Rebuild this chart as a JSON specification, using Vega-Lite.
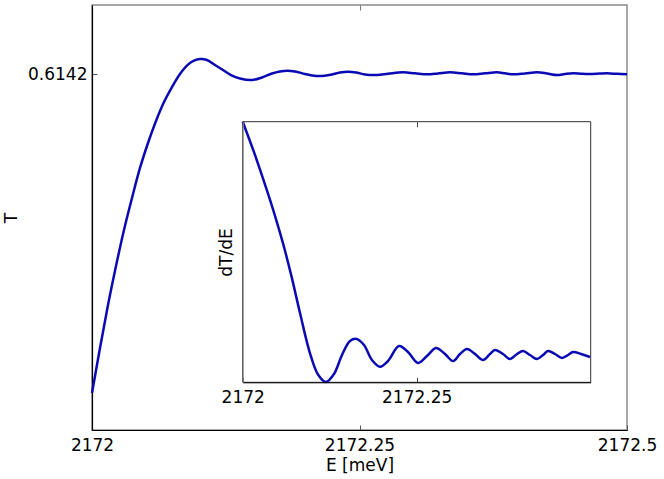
{
  "$schema": "https://vega.github.io/schema/vega-lite/v6.json",
  "width": 535,
  "height": 425,
  "autosize": {"type": "none"},
  "padding": {"left": 92, "top": 5, "right": 37, "bottom": 49},
  "background": "white",
  "config": {
    "view": {"stroke": "#8a8a8a", "strokeWidth": 1.5},
    "axis": {
      "labelFont": "DejaVu Sans",
      "titleFont": "DejaVu Sans",
      "labelFontSize": 17,
      "titleFontSize": 17,
      "titleFontWeight": "normal",
      "labelColor": "black",
      "titleColor": "black",
      "grid": false,
      "labelFlush": false,
      "labelOverlap": false
    }
  },
  "datasets": {
    "main": [
      {"E": 2172.0, "T": 0.610437}, {"E": 2172.00748, "T": 0.610969}, {"E": 2172.01495, "T": 0.611476},
      {"E": 2172.02243, "T": 0.611937}, {"E": 2172.0299, "T": 0.612362}, {"E": 2172.03738, "T": 0.61274},
      {"E": 2172.04486, "T": 0.613095}, {"E": 2172.05234, "T": 0.61339}, {"E": 2172.05981, "T": 0.61365},
      {"E": 2172.06729, "T": 0.613874}, {"E": 2172.07477, "T": 0.614051}, {"E": 2172.08224, "T": 0.614205},
      {"E": 2172.08972, "T": 0.614315}, {"E": 2172.09533, "T": 0.614362}, {"E": 2172.10093, "T": 0.614382},
      {"E": 2172.10748, "T": 0.61437}, {"E": 2172.11495, "T": 0.614311}, {"E": 2172.12243, "T": 0.614252},
      {"E": 2172.12991, "T": 0.614193}, {"E": 2172.13832, "T": 0.614152}, {"E": 2172.14953, "T": 0.614134},
      {"E": 2172.15888, "T": 0.614164}, {"E": 2172.16822, "T": 0.614211}, {"E": 2172.1757, "T": 0.614235},
      {"E": 2172.18224, "T": 0.614244}, {"E": 2172.18972, "T": 0.614235}, {"E": 2172.19907, "T": 0.614205},
      {"E": 2172.20748, "T": 0.614184}, {"E": 2172.21495, "T": 0.614181}, {"E": 2172.2243, "T": 0.614199},
      {"E": 2172.23178, "T": 0.614223}, {"E": 2172.23925, "T": 0.614232}, {"E": 2172.24673, "T": 0.614223},
      {"E": 2172.25514, "T": 0.614199}, {"E": 2172.26636, "T": 0.614193}, {"E": 2172.27664, "T": 0.614207},
      {"E": 2172.29065, "T": 0.614225}, {"E": 2172.30187, "T": 0.614213}, {"E": 2172.31308, "T": 0.614201},
      {"E": 2172.32336, "T": 0.614211}, {"E": 2172.33458, "T": 0.614225}, {"E": 2172.3458, "T": 0.614213},
      {"E": 2172.35607, "T": 0.614201}, {"E": 2172.36729, "T": 0.614213}, {"E": 2172.3785, "T": 0.614225},
      {"E": 2172.38598, "T": 0.614213}, {"E": 2172.39346, "T": 0.614201}, {"E": 2172.40467, "T": 0.614211},
      {"E": 2172.41589, "T": 0.614225}, {"E": 2172.42523, "T": 0.614211}, {"E": 2172.43458, "T": 0.614193},
      {"E": 2172.44206, "T": 0.614205}, {"E": 2172.44953, "T": 0.614213}, {"E": 2172.45794, "T": 0.614207},
      {"E": 2172.46542, "T": 0.614205}, {"E": 2172.47477, "T": 0.61421}, {"E": 2172.48131, "T": 0.614213},
      {"E": 2172.49065, "T": 0.614207}, {"E": 2172.5, "T": 0.614201}
    ],
    "inset": [
      {"E": 2172.0, "dTdE": 0.9}, {"E": 2172.01624, "dTdE": 0.783}, {"E": 2172.03448, "dTdE": 0.6391},
      {"E": 2172.04641, "dTdE": 0.5389}, {"E": 2172.05833, "dTdE": 0.4292}, {"E": 2172.07012, "dTdE": 0.3064},
      {"E": 2172.08233, "dTdE": 0.1659}, {"E": 2172.0967, "dTdE": 0.0113}, {"E": 2172.10862, "dTdE": -0.072},
      {"E": 2172.11968, "dTdE": -0.0989}, {"E": 2172.13118, "dTdE": -0.0681}, {"E": 2172.14268, "dTdE": 0.0048},
      {"E": 2172.15417, "dTdE": 0.0585}, {"E": 2172.1638, "dTdE": 0.0662}, {"E": 2172.17429, "dTdE": 0.0431},
      {"E": 2172.18578, "dTdE": -0.0144}, {"E": 2172.19728, "dTdE": -0.0401}, {"E": 2172.20877, "dTdE": -0.0183},
      {"E": 2172.22458, "dTdE": 0.0393}, {"E": 2172.23751, "dTdE": 0.0163}, {"E": 2172.25188, "dTdE": -0.0259},
      {"E": 2172.26481, "dTdE": 0.0009}, {"E": 2172.27774, "dTdE": 0.0316}, {"E": 2172.29067, "dTdE": 0.0086},
      {"E": 2172.30217, "dTdE": -0.0183}, {"E": 2172.31223, "dTdE": 0.0086}, {"E": 2172.32229, "dTdE": 0.0278},
      {"E": 2172.33378, "dTdE": 0.0086}, {"E": 2172.34528, "dTdE": -0.0144}, {"E": 2172.35534, "dTdE": 0.0086},
      {"E": 2172.36252, "dTdE": 0.0239}, {"E": 2172.37402, "dTdE": 0.0086}, {"E": 2172.38407, "dTdE": -0.0106},
      {"E": 2172.39413, "dTdE": 0.0086}, {"E": 2172.40275, "dTdE": 0.0201}, {"E": 2172.41281, "dTdE": 0.0048},
      {"E": 2172.42287, "dTdE": -0.0106}, {"E": 2172.43149, "dTdE": 0.0048}, {"E": 2172.43868, "dTdE": 0.0201},
      {"E": 2172.44873, "dTdE": 0.0086}, {"E": 2172.45879, "dTdE": -0.0067}, {"E": 2172.46741, "dTdE": 0.0048},
      {"E": 2172.4746, "dTdE": 0.0163}, {"E": 2172.48609, "dTdE": 0.0086}, {"E": 2172.49902, "dTdE": -0.0029}
    ],
    "frame": [
      {"E0": 2172.0, "E1": 2172.5, "v0": -0.1, "v1": 0.9}
    ]
  },
  "layer": [
    {
      "data": {"name": "main"},
      "mark": {"type": "line", "color": "#0a0ab4", "strokeWidth": 2.5, "interpolate": "catmull-rom"},
      "encoding": {
        "x": {
          "field": "E", "type": "quantitative",
          "scale": {"domain": [2172, 2172.5], "nice": false, "zero": false},
          "axis": {
            "orient": "bottom", "values": [2172, 2172.25, 2172.5], "format": ".2~f",
            "title": "E [meV]", "domainColor": "black", "domainWidth": 1.2,
            "tickColor": "#555", "tickSize": -5, "labelPadding": 12, "titlePadding": 4
          }
        },
        "y": {
          "field": "T", "type": "quantitative",
          "scale": {"domain": [0.61, 0.61502], "nice": false, "zero": false},
          "axis": {
            "orient": "left", "values": [0.6142], "format": ".4f",
            "title": "T", "domainColor": "black", "domainWidth": 1.2,
            "tickColor": "#555", "tickSize": -5, "labelPadding": 10, "titlePadding": 7
          }
        }
      }
    },
    {
      "data": {"name": "main"},
      "mark": {"type": "line", "opacity": 0},
      "encoding": {
        "x": {
          "field": "E", "type": "quantitative",
          "scale": {"domain": [2172, 2172.5], "nice": false, "zero": false},
          "axis": {
            "orient": "top", "values": [2172.25], "labels": false, "domain": false,
            "title": null, "tickColor": "#777", "tickSize": -5, "zindex": 1
          }
        },
        "y": {
          "field": "T", "type": "quantitative",
          "scale": {"domain": [0.61, 0.61502], "nice": false, "zero": false},
          "axis": null
        }
      }
    },
    {
      "resolve": {"scale": {"x": "independent"}},
      "layer": [
        {
          "data": {"name": "frame"},
          "mark": {"type": "rect", "fill": "white", "stroke": "#333", "strokeWidth": 1},
          "encoding": {
            "x": {
              "field": "E0", "type": "quantitative",
              "scale": {"domain": [2172, 2172.5], "range": [150.7, 498.7], "nice": false, "zero": false},
              "axis": {
                "orient": "bottom", "offset": -47.7, "values": [2172, 2172.25], "format": ".2~f",
                "title": null, "domainColor": "black", "tickColor": "#444", "tickSize": -5,
                "labelPadding": 12, "zindex": 1
              }
            },
            "x2": {"field": "E1"},
            "y": {
              "field": "v0", "type": "quantitative",
              "scale": {"domain": [-0.1, 0.9], "range": [377.3, 116.7], "nice": false, "zero": false},
              "axis": {
                "orient": "left", "offset": -150.7, "ticks": false, "labels": false,
                "title": "dT/dE", "titlePadding": 7, "domainColor": "#888", "zindex": 1
              }
            },
            "y2": {"field": "v1"}
          }
        },
        {
          "data": {"name": "inset"},
          "mark": {"type": "line", "color": "#0a0ab4", "strokeWidth": 2.5, "interpolate": "catmull-rom"},
          "encoding": {
            "x": {
              "field": "E", "type": "quantitative",
              "scale": {"domain": [2172, 2172.5], "range": [150.7, 498.7], "nice": false, "zero": false},
              "axis": {
                "orient": "top", "offset": -116.7, "values": [2172.25], "labels": false,
                "domain": false, "title": null, "tickColor": "#444", "tickSize": -5, "zindex": 1
              }
            },
            "y": {
              "field": "dTdE", "type": "quantitative",
              "scale": {"domain": [-0.1, 0.9], "range": [377.3, 116.7], "nice": false, "zero": false},
              "axis": {
                "orient": "left", "offset": -150.7, "ticks": false, "labels": false,
                "title": "dT/dE", "titlePadding": 7, "domainColor": "#888", "zindex": 1
              }
            }
          }
        }
      ]
    }
  ],
  "resolve": {"scale": {"x": "independent", "y": "independent"}}
}
